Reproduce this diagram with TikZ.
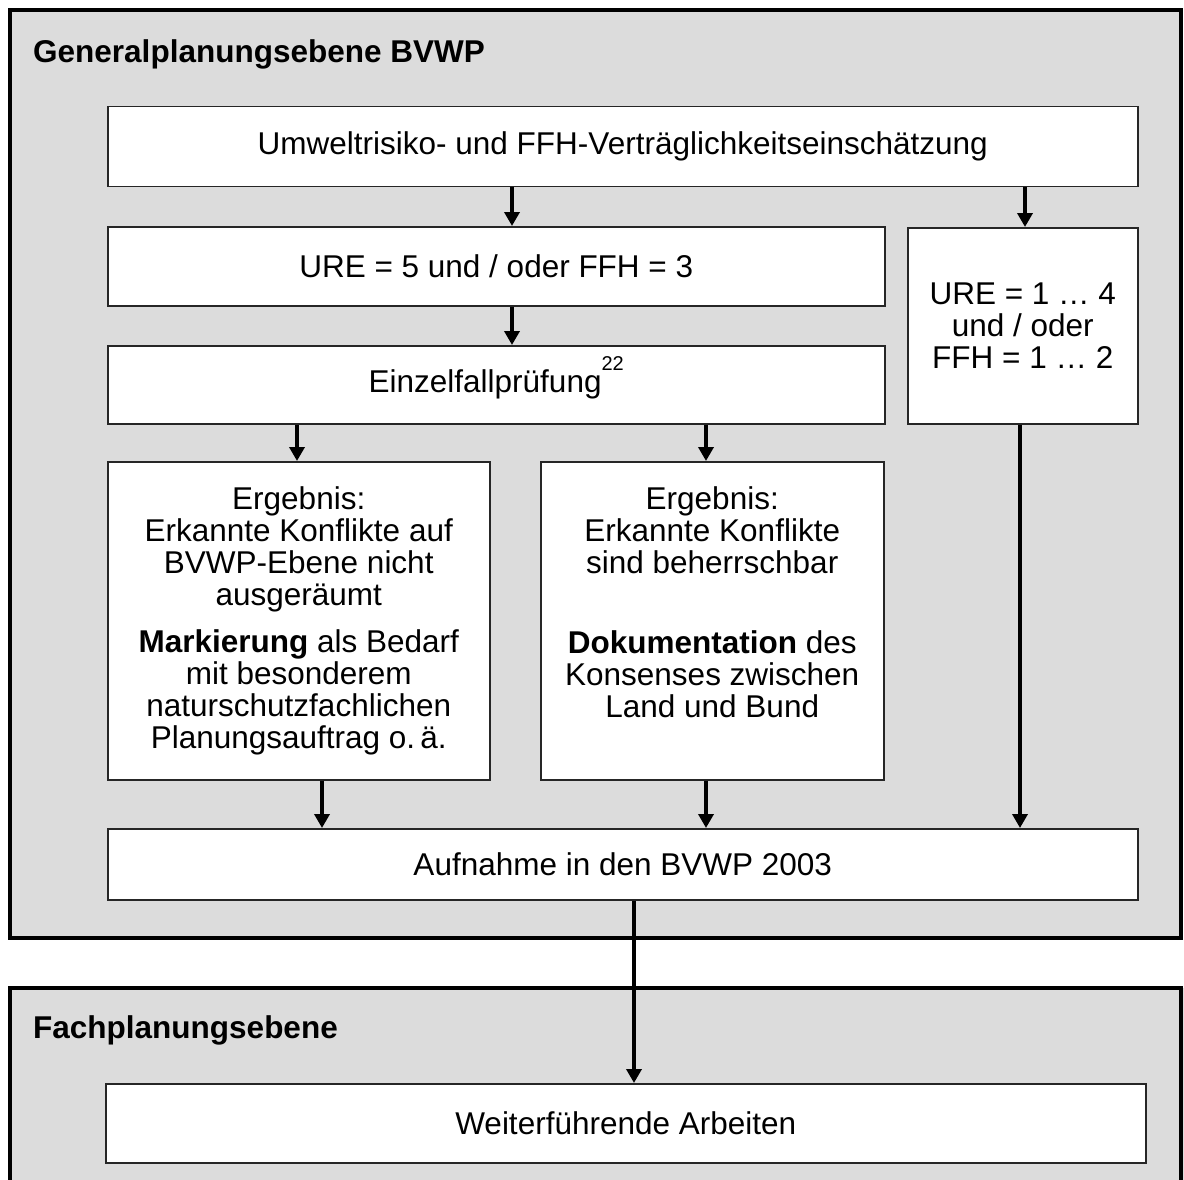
\documentclass[tikz,border=0pt]{standalone}
\usepackage{fontspec}
\setmainfont{Liberation Sans}
\usetikzlibrary{arrows.meta}

\definecolor{panelgray}{RGB}{220,220,220}
\newcommand{\toptext}[2]{\parbox[c][318pt][t]{#1}{\centering\vspace*{24.5pt}#2}}

\begin{document}
\begin{tikzpicture}[x=1pt,y=-1pt]
  \tikzstyle{panel} = [fill=panelgray, draw=black, line width=4pt]
  \tikzstyle{format} = [draw=black!85, line width=1.5pt, fill=white, inner sep=0pt, anchor=north west, align=center, font=\fontsize{31.5}{32}\selectfont]
  \tikzstyle{heading} = [anchor=base west, inner sep=0pt, font=\fontsize{31.5}{32}\selectfont\bfseries]
  \tikzstyle{flow} = [line width=4pt, -{Triangle[width=15pt,length=14pt]}]
  \useasboundingbox (0,0) rectangle (1184,1180);

  % the two planning levels
  \filldraw[panel] (10,10) rectangle (1181,938);
  \fill[panelgray] (10,988) rectangle (1190,1190);
  \draw[line width=4pt] (10,1190) -- (10,988) -- (1181,988) -- (1181,1190);
  \draw (33,63) node[heading] (gen) {Generalplanungsebene BVWP};
  \draw (33,1038) node[heading] (fach) {Fachplanungsebene};

  \draw (107,106) node[format, minimum width=1030pt, minimum height=80pt] (umw) {Umweltrisiko- und FFH-Verträglichkeitseinschätzung};
  \draw (107,226) node[format, minimum width=777pt, minimum height=79pt] (ure5) {URE = 5 und / oder FFH = 3};
  \draw (907,227) node[format, minimum width=230pt, minimum height=196pt] (ure14) {URE = 1 … 4\\und / oder\\FFH = 1 … 2};
  \draw (107,345) node[format, minimum width=777pt, minimum height=78pt] (einzel) {Einzelfallprüfung\raisebox{22pt}[0pt][0pt]{\fontsize{20}{20}\selectfont 22}};
  \draw (107,461) node[format] (lres) {\toptext{382pt}{Ergebnis:\\Erkannte Konflikte auf\\BVWP-Ebene nicht\\ausgeräumt\\[15pt]\textbf{Markierung} als Bedarf\\mit besonderem\\naturschutzfachlichen\\Planungsauftrag o.\,ä.}};
  \draw (540,461) node[format] (mres) {\toptext{343pt}{Ergebnis:\\Erkannte Konflikte\\sind beherrschbar\\[48pt]\textbf{Dokumentation} des\\Konsenses zwischen\\Land und Bund}};
  \draw (107,828) node[format, minimum width=1030pt, minimum height=71pt] (aufn) {Aufnahme in den BVWP 2003};
  \draw (105,1083) node[format, minimum width=1040pt, minimum height=79pt] (weiter) {Weiterführende Arbeiten};

  % arrow columns
  \coordinate (xa) at (512,0);
  \coordinate (xb) at (1025,0);
  \coordinate (xc) at (297,0);
  \coordinate (xd) at (706,0);
  \coordinate (xe) at (322,0);
  \coordinate (xf) at (1020,0);
  \coordinate (xg) at (634,0);

  \draw[flow] (umw.south -| xa) -- (ure5.north -| xa);
  \draw[flow] (umw.south -| xb) -- (ure14.north -| xb);
  \draw[flow] (ure5.south -| xa) -- (einzel.north -| xa);
  \draw[flow] (einzel.south -| xc) -- (lres.north -| xc);
  \draw[flow] (einzel.south -| xd) -- (mres.north -| xd);
  \draw[flow] (lres.south -| xe) -- (aufn.north -| xe);
  \draw[flow] (mres.south -| xd) -- (aufn.north -| xd);
  \draw[flow] (ure14.south -| xf) -- (aufn.north -| xf);
  \draw[flow] (aufn.south -| xg) -- (weiter.north -| xg);
\end{tikzpicture}
\end{document}
